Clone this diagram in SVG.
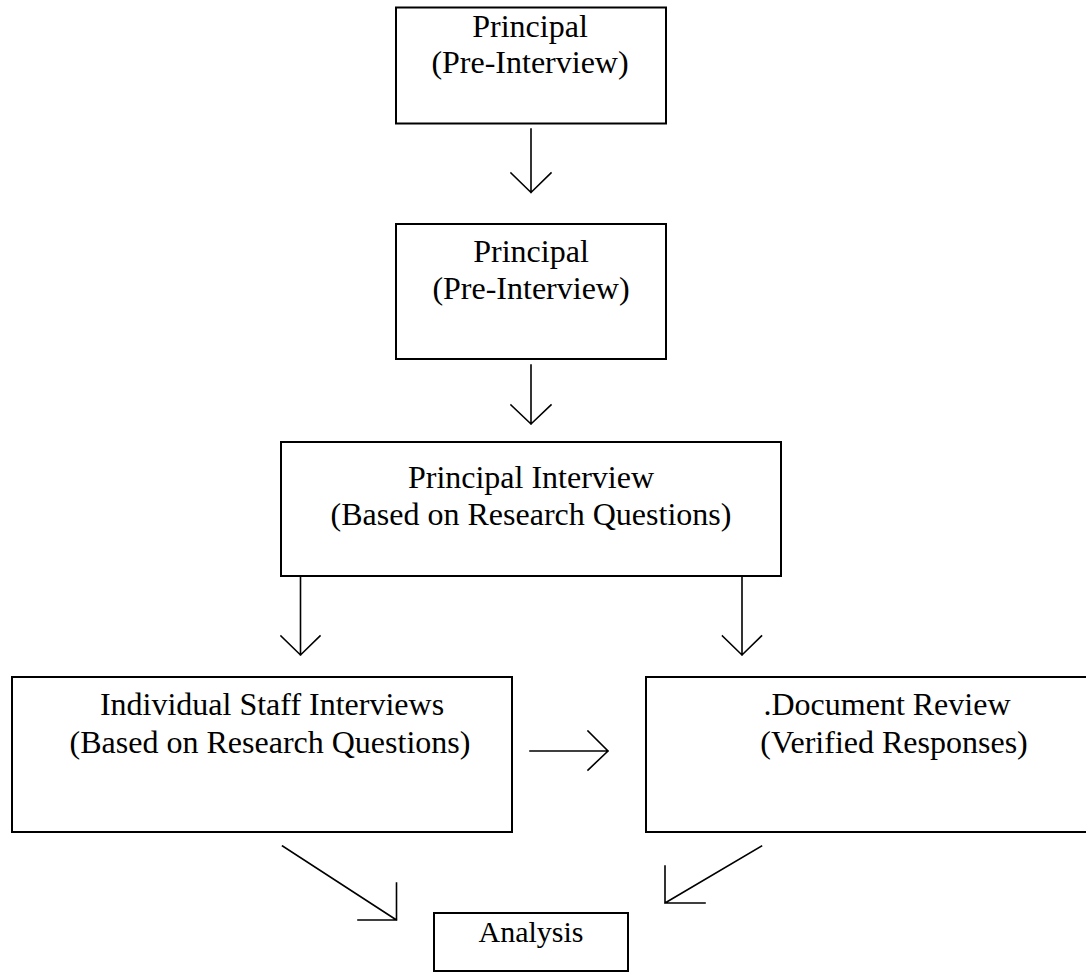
<svg xmlns="http://www.w3.org/2000/svg" width="1086" height="972" viewBox="0 0 1086 972">
<style>
.box{fill:#fff;stroke:#000;stroke-width:2}
.t{font-family:"Liberation Serif","Times New Roman",serif;font-size:32px;fill:#000;text-anchor:middle}
.c{fill:none;stroke:#000;stroke-width:1.6;stroke-linecap:square}
</style>
<rect width="1086" height="972" fill="#fff"/>
<g id="n1">
<rect class="box" x="396" y="7.5" width="270" height="116"/>
<text class="t" x="530" y="37">Principal</text>
<text class="t" x="530" y="73">(Pre-Interview)</text>
</g>
<g id="n2">
<rect class="box" x="396" y="224" width="270" height="135"/>
<text class="t" x="531" y="262">Principal</text>
<text class="t" x="531" y="299">(Pre-Interview)</text>
</g>
<g id="n3">
<rect class="box" x="281" y="442" width="500" height="134"/>
<text class="t" x="531" y="488">Principal Interview</text>
<text class="t" x="531" y="525">(Based on Research Questions)</text>
</g>
<g id="n4">
<rect class="box" x="12" y="677" width="500" height="155"/>
<text class="t" x="272" y="715">Individual Staff Interviews</text>
<text class="t" x="270" y="753">(Based on Research Questions)</text>
</g>
<g id="n5">
<rect class="box" x="646" y="677" width="444" height="155"/>
<text class="t" x="887" y="715">.Document Review</text>
<text class="t" x="894" y="753">(Verified Responses)</text>
</g>
<g id="n6">
<rect class="box" x="434" y="913" width="194" height="58"/>
<text class="t" x="531" y="942" style="font-size:30px">Analysis</text>
</g>
<g id="connectors">
<path class="c" d="M531 129 V192.5 M511 173 L531 192.5 L551 173"/>
<path class="c" d="M531 365 V424 M511 405 L531 424 L551 405"/>
<path class="c" d="M300.5 576 V655 M281 636 L300.5 655 L320 636"/>
<path class="c" d="M742 576 V655 M722.5 636 L742 655 L761.5 636"/>
<path class="c" d="M530 751 H608 M588 731 L608 751 L588 770"/>
<path class="c" d="M282.5 846 L396.5 920 M396.5 883 V920 H358"/>
<path class="c" d="M761.5 846 L665 903 M665 866 V903 H705"/>
</g>
</svg>
